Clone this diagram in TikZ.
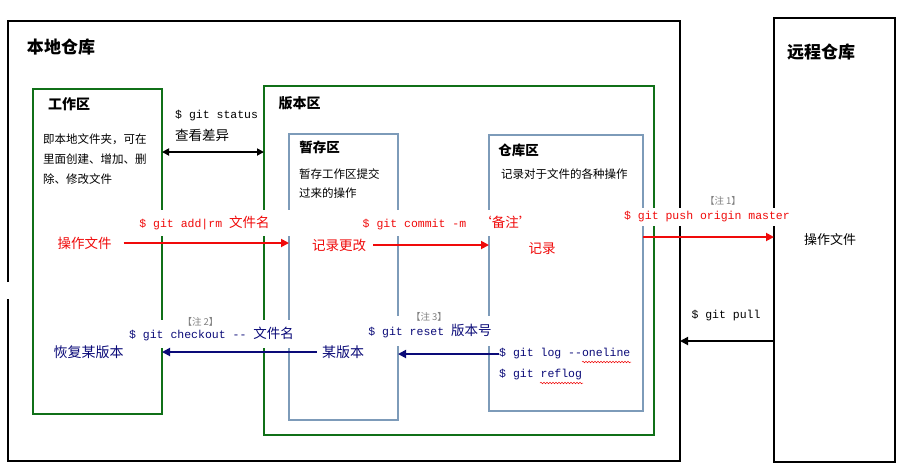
\documentclass[tikz,border=0pt]{standalone}
\usepackage{fontspec}
\setmainfont{Noto Sans CJK SC}
\setmonofont{Liberation Mono}
\usetikzlibrary{arrows.meta,decorations.pathmorphing,calc}
\definecolor{gitgreen}{RGB}{16,112,24}
\definecolor{gitblue}{RGB}{125,155,185}
\definecolor{gitred}{RGB}{240,10,10}
\definecolor{gitnavy}{RGB}{10,10,120}
\newcommand\zh[1]{{\rmfamily\fontsize{13.5}{14}\selectfont #1}}
\tikzset{
  area/.style={draw, rectangle, inner sep=0pt, outer sep=0pt, anchor=north west},
  outerbox/.style={area, draw=black, line width=1.8pt},
  greenbox/.style={area, draw=gitgreen, line width=1.8pt},
  bluebox/.style={area, draw=gitblue, line width=1.8pt},
  bigtitle/.style={inner sep=0pt, font=\fontsize{17}{20}\selectfont\bfseries},
  subtitle/.style={inner sep=0pt, font=\fontsize{14}{16}\selectfont\bfseries},
  desc/.style={inner sep=0pt, anchor=west, align=left, font=\fontsize{11.5}{20}\selectfont},
  cmd/.style={fill=white, inner xsep=3pt, inner ysep=6pt, font=\fontsize{11.5}{14}\selectfont\ttfamily},
  note/.style={inner sep=1pt, text=gray, font=\fontsize{9.5}{11}\selectfont},
  zhlbl/.style={inner sep=0pt, font=\fontsize{13.5}{15}\selectfont},
  arr/.style={line width=1.8pt, -{Triangle[length=8pt,width=8pt]}},
  wavy/.style={draw=gitred, line width=0.5pt, decorate, decoration={snake, amplitude=0.8pt, segment length=3pt}}
}
\begin{document}
\begin{tikzpicture}[x=1pt,y=-1pt]
\useasboundingbox[fill=white] (0,0) rectangle (912,475);

% boxes
\node[area, draw=none, minimum width=672pt, minimum height=440pt] (local) at (8,21) {};
\draw[line width=1.8pt] ($(local.north west)+(0,261)$) -- (local.north west) -- (local.north east)
  -- (local.south east) -- (local.south west) -- ($(local.north west)+(0,278)$);
\node[outerbox, minimum width=121pt, minimum height=444pt] (remote) at (774,18) {};
\node[greenbox, minimum width=129pt, minimum height=325pt] (work) at (33,89) {};
\node[greenbox, minimum width=390pt, minimum height=349pt] (version) at (264,86) {};
\node[bluebox, minimum width=109pt, minimum height=286pt] (stage) at (289,134) {};
\node[bluebox, minimum width=154pt, minimum height=276pt] (repo) at (489,135) {};

% titles
\node[bigtitle] (localtitle) at (61,47) {本地仓库};
\node[bigtitle] (remotetitle) at (821,52) {远程仓库};
\node[subtitle] (worktitle) at (69,104) {工作区};
\node[subtitle] (versiontitle) at (299.5,103) {版本区};
\node[subtitle, font=\fontsize{13.5}{15}\selectfont\bfseries] (stagetitle) at (319.5,147) {暂存区};
\node[subtitle, font=\fontsize{13.5}{15}\selectfont\bfseries] (repotitle) at (518.5,150) {仓库区};

% descriptions
\node[desc] (workdesc) at (43,159) {即本地文件夹，可在\\里面创建、增加、删\\除、修改文件};
\node[desc, font=\fontsize{11.5}{19}\selectfont] (stagedesc) at (299,183.5) {暂存工作区提交\\过来的操作};
\node[desc] (repodesc) at (501,174) {记录对于文件的各种操作};

% git status
\node[cmd, fill=none, inner sep=0pt, anchor=west] (status) at (175,116) {\$ git status};
\node[zhlbl, anchor=west] (diff) at (175,135) {查看差异};
\draw[line width=1.8pt, {Triangle[length=7pt,width=7pt]}-{Triangle[length=7pt,width=7pt]}]
  (work.east |- 0,152) -- (version.west |- 0,152);

% add / commit / push labels
\node[cmd, text=gitred, inner xsep=22pt] (addcmd) at (204.5,223) {\$ git add|rm \zh{文件名}};
\node[cmd, text=gitred, inner xsep=4pt] (commitcmd) at (447.5,223) {\$ git commit -m\hspace{12pt}\zh{‘备注’}};
\node[cmd, text=gitred, inner ysep=4pt] (pushcmd) at (707,217) {\$ git push origin master};
\node[note] (note1) at (723,201) {【注 1】};

\node[zhlbl, text=gitred] (opfile) at (84.5,243) {操作文件};
\node[zhlbl, text=gitred] (recchg) at (339,245) {记录更改};
\node[zhlbl, text=gitred] (rec) at (542,249) {记录};
\node[zhlbl, font=\fontsize{13}{15}\selectfont] (remoteop) at (830,240) {操作文件};

\draw[arr, gitred, shorten <=12pt] (opfile.east) -- (opfile.east -| stage.west);
\draw[arr, gitred, shorten <=7pt] (recchg.east) -- (recchg.east -| repo.west);
\draw[arr, gitred] (repo.east |- 0,237) -- (remote.west |- 0,237);

% pull
\node[cmd, fill=none, inner sep=0pt] (pullcmd) at (726,316) {\$ git pull};
\coordinate (pully) at (0,341);
\draw[arr, black] (remote.west |- pully) -- (local.east |- pully);

% checkout / reset
\node[cmd, text=gitnavy, inner ysep=7pt] (checkoutcmd) at (211.5,334) {\$ git checkout -{}- \zh{文件名}};
\node[note] (note2) at (200.5,322) {【注 2】};
\node[cmd, text=gitnavy, inner ysep=8pt] (resetcmd) at (430,331) {\$ git reset \zh{版本号}};
\node[note] (note3) at (429,317) {【注 3】};

\node[zhlbl, text=gitnavy, font=\fontsize{14}{16}\selectfont] (restore) at (88.5,352) {恢复某版本};
\node[zhlbl, text=gitnavy, font=\fontsize{14}{16}\selectfont] (somever) at (343,352) {某版本};

\node[cmd, fill=none, inner sep=0pt, anchor=west, text=gitnavy] (log1) at (499,354) {\$ git log -{}-oneline};
\node[cmd, fill=none, inner sep=0pt, anchor=west, text=gitnavy] (log2) at (499,375) {\$ git reflog};
\draw[wavy] ($(log1.west)+(83,8)$) -- ($(log1.west)+(132,8)$);
\draw[wavy] ($(log2.west)+(41,8)$) -- ($(log2.west)+(84,8)$);

\draw[arr, gitnavy, shorten <=5pt] (somever.west) -- (somever.west -| work.east);
\draw[arr, gitnavy] (log1.west) -- (log1.west -| stage.east);
\end{tikzpicture}
\end{document}
